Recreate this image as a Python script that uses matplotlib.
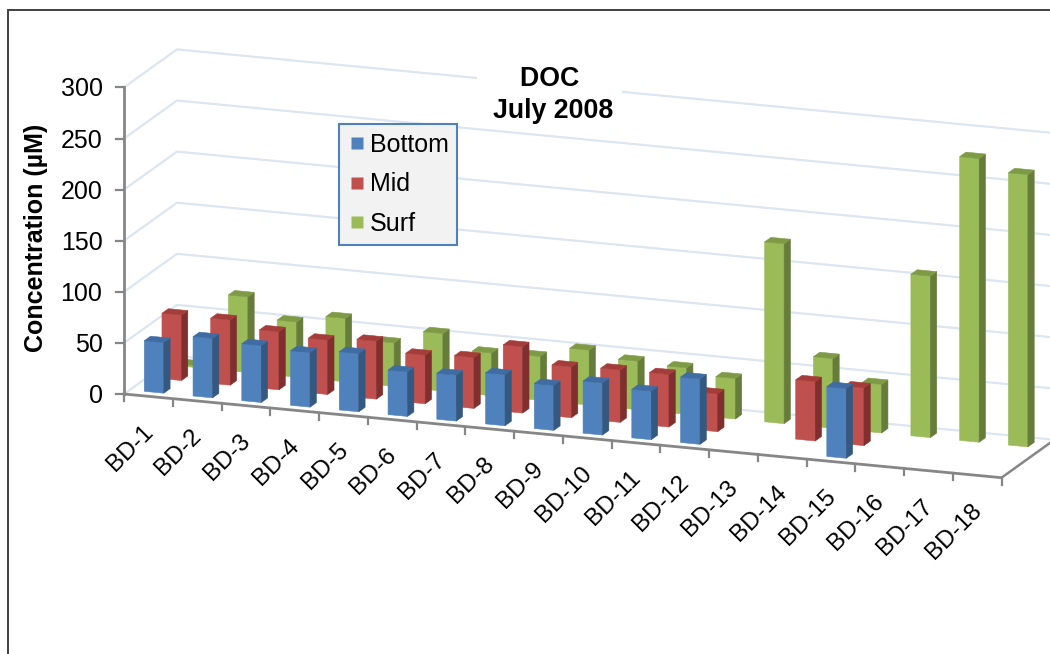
import numpy as np
import matplotlib
matplotlib.use("Agg")
import matplotlib.pyplot as plt
from matplotlib.patches import Polygon, Rectangle
from matplotlib.lines import Line2D

plt.rcParams['font.family'] = ['Liberation Sans', 'DejaVu Sans']

categories = ["BD-1","BD-2","BD-3","BD-4","BD-5","BD-6","BD-7","BD-8","BD-9",
              "BD-10","BD-11","BD-12","BD-13","BD-14","BD-15","BD-16","BD-17","BD-18"]
nan = float('nan')
bottom = [49.5,58,55.7,53.4,57,43.6,45,50,44,51,47.5,64,nan,nan,68.3,nan,nan,nan]
mid    = [64,63.7,56.8,53.2,56.7,47.6,49.8,64.9,49.8,51.2,51.4,37,nan,58,56.5,nan,nan,nan]
surf   = [2,74,54,62,42.6,56.3,41.8,43,53.7,47.5,45.5,39.6,176,68.2,47.5,158,277.6,266.4]
series_names = ["Bottom","Mid","Surf"]
yticks = [0,50,100,150,200,250,300]

FRONT = ["#4F81BD","#C0504D","#9BBB59"]
SIDE  = ["#34587F","#7F2F2D","#667C3A"]
TOP   = ["#3F6CA3","#A43D3A","#7E9A45"]
GRID = "#DCE6F2"
AXIS = "#868686"

W, H = 1050, 654
fig = plt.figure(figsize=(W/100, H/100), dpi=100, facecolor="white")
ax = fig.add_axes([0, 0, 1, 1])
ax.set_xlim(0, W); ax.set_ylim(H, 0); ax.axis("off")

# oblique projection of (category position, depth 0..1, value) onto the figure
O = np.array([124.0, 394.0])
CAT = np.array([48.75, 4.65])
DEPTH = np.array([53.0, -38.0])
VAL = np.array([0.0, -1.022])
def proj(u, d, v):
    return tuple(O + u*CAT + d*DEPTH + v*VAL)

n = len(categories)
vmax = yticks[-1]

# frame
ax.plot([7.5, 7.5, W], [H, 10, 10], color="#404040", lw=1.4, solid_joinstyle="miter", zorder=1)

# walls' gridlines
for v in yticks:
    pts = [proj(0,0,v), proj(0,1,v), proj(n,1,v)]
    ax.plot(*zip(*pts), color=GRID, lw=1.6, zorder=2)
ax.plot(*zip(proj(n,0,0), proj(n,1,0)), color=AXIS, lw=1.8, zorder=2)

# axes
ax.plot(*zip(proj(0,0,0), proj(0,0,vmax)), color=AXIS, lw=2, zorder=3)
ax.plot(*zip(proj(0,0,0), proj(n,0,0)), color=AXIS, lw=2, zorder=3)
for v in yticks:
    x, y = proj(0,0,v)
    ax.plot([x-8, x], [y, y], color=AXIS, lw=1.6, zorder=3)
    ax.text(x-21.5, y+2, str(v), ha="right", va="center", fontsize=18, color="black")
for i in range(n+1):
    x, y = proj(i,0,0)
    ax.plot([x, x], [y, y+7], color=AXIS, lw=1.6, zorder=3)
for i, c in enumerate(categories):
    x, y = proj(i+0.5,0,0)
    ax.text(x+1, y+32, c, rotation=45, rotation_mode="anchor", ha="right", va="center",
            fontsize=17.5, color="black")

# bars, back row first
BAR_U = (0.30, 0.70)
BAR_D = 0.119
z = 10
for s, vals in reversed(list(enumerate([bottom, mid, surf]))):
    d0 = (s + 0.5)/3 - BAR_D/2
    d1 = d0 + BAR_D
    for i, v in enumerate(vals):
        if np.isnan(v):
            continue
        u0, u1 = i + BAR_U[0], i + BAR_U[1]
        faces = [
            ([proj(u0,d0,0), proj(u1,d0,0), proj(u1,d0,v), proj(u0,d0,v)], FRONT[s]),
            ([proj(u1,d0,0), proj(u1,d1,0), proj(u1,d1,v), proj(u1,d0,v)], SIDE[s]),
            ([proj(u0,d0,v), proj(u1,d0,v), proj(u1,d1,v), proj(u0,d1,v)], TOP[s]),
        ]
        for pts, col in faces:
            ax.add_patch(Polygon(pts, closed=True, facecolor=col, edgecolor=col, lw=0.4, zorder=z))
        z += 1

# title with its white backing
ax.add_patch(Rectangle((477, 55), 145, 69, facecolor="white", edgecolor="none", zorder=5))
ax.text(553, 95, "DOC \nJuly 2008", ha="center", va="center", fontsize=19.3, fontweight="bold",
        linespacing=1.33, zorder=50)

# y axis title
ax.text(36, 238, "Concentration (µM)", rotation=90, ha="center", va="center",
        fontsize=18, fontweight="bold", color="black")

# legend
handles = [Line2D([], [], linestyle="none", marker="s", markersize=8.64, markerfacecolor=FRONT[k],
                  markeredgecolor="none", label=series_names[k]) for k in range(3)]
leg = ax.legend(handles=handles, loc="upper left", bbox_to_anchor=(339/W, 1-124/H),
                bbox_transform=fig.transFigure, borderaxespad=0, fontsize=18, frameon=True,
                fancybox=False, facecolor="#F2F2F2", edgecolor="#4F81BD", framealpha=1,
                handlelength=0.74, handletextpad=0.13, labelspacing=0.62, borderpad=0.35)
leg.get_frame().set_linewidth(1.5)
leg.set_zorder(60)

fig.savefig("out.png", dpi=100, facecolor="white")
